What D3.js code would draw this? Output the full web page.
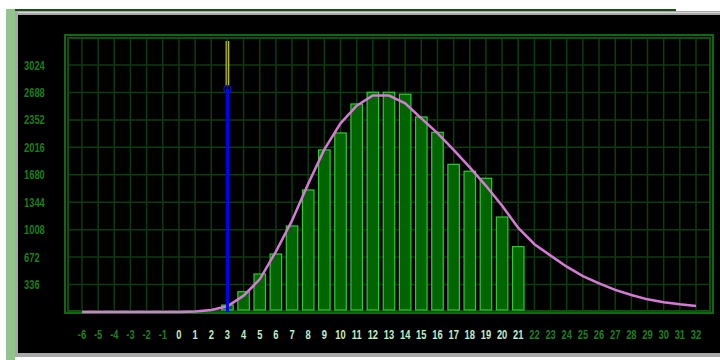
<!DOCTYPE html>
<html>
<head>
<meta charset="utf-8">
<script src="https://cdn.jsdelivr.net/npm/d3@7"></script>
<style>
  html, body { margin: 0; padding: 0; background: #ffffff; }
  svg { display: block; }
</style>
</head>
<body>
<div id="vis"></div>
<script>
// categorías del eje x
const xLabels = [-6, -5, -4, -3, -2, -1, 0, 1, 2, 3, 4, 5, 6, 7, 8, 9, 10, 11, 12, 13,
  14, 15, 16, 17, 18, 19, 20, 21, 22, 23, 24, 25, 26, 27, 28, 29, 30, 31, 32];
const yTicks = [336, 672, 1008, 1344, 1680, 2016, 2352, 2688, 3024];

// barras (frecuencias observadas)
const barCats = [3, 4, 5, 6, 7, 8, 9, 10, 11, 12, 13, 14, 15, 16, 17, 18, 19, 20, 21];
const barValues = [85, 248, 465, 710, 1053, 1494, 1984, 2192, 2547, 2690, 2690, 2666,
  2388, 2200, 1808, 1723, 1637, 1163, 800];

// curva teórica
const curveValues = [0, 0, 0, 0, 0, 0, 0, 5, 25, 70, 200, 400, 740, 1120, 1570, 1990,
  2310, 2525, 2650, 2650, 2555, 2370, 2190, 1985, 1770, 1545, 1300, 1030, 830, 690,
  555, 440, 350, 270, 208, 155, 120, 94, 73];

// marcador vertical
const markerCat = 3;
const markerValue = 2730;

const width = 720;
const height = 360;

const svg = d3.select("#vis")
  .append("svg")
  .attr("width", width)
  .attr("height", height);

// marco de la ventana
svg.append("rect").attr("x", 6).attr("y", 9).attr("width", 9).attr("height", 351).attr("fill", "#93c48e");
svg.append("rect").attr("x", 15).attr("y", 9).attr("width", 661).attr("height", 2).attr("fill", "#1c4d1c");
svg.append("rect").attr("x", 15).attr("y", 11).attr("width", 705).attr("height", 4).attr("fill", "#a8a8a8");
svg.append("rect").attr("x", 15).attr("y", 12).attr("width", 705).attr("height", 1).attr("fill", "#d8d8d8");
svg.append("rect").attr("x", 15).attr("y", 11).attr("width", 3).attr("height", 346).attr("fill", "#a8a8a8");
svg.append("rect").attr("x", 15).attr("y", 353).attr("width", 705).attr("height", 4).attr("fill", "#a8a8a8");
svg.append("rect").attr("x", 18).attr("y", 15).attr("width", 702).attr("height", 338).attr("fill", "#000000");

const x = d3.scaleLinear().domain([-6, 32]).range([82, 696]);
const y = d3.scaleLinear().domain([0, 3024]).range([312, 65]);

const plotLeft = 68, plotRight = 710, plotTop = 38, plotBottom = 311;

// rejilla
const grid = svg.append("g");
grid.selectAll("line.v")
  .data(xLabels)
  .enter()
  .append("line")
  .attr("x1", d => x(d)).attr("x2", d => x(d))
  .attr("y1", plotTop).attr("y2", plotBottom)
  .attr("stroke", "#0d3d0d")
  .attr("stroke-width", 1.5);
grid.selectAll("line.h")
  .data(yTicks)
  .enter()
  .append("line")
  .attr("x1", plotLeft).attr("x2", plotRight)
  .attr("y1", d => y(d)).attr("y2", d => y(d))
  .attr("stroke", "#0d3d0d")
  .attr("stroke-width", 1.5);

// marcos del área de trazado
svg.append("rect")
  .attr("x", 65).attr("y", 35).attr("width", 648).attr("height", 278)
  .attr("fill", "none").attr("stroke", "#0d6a0d").attr("stroke-width", 2);
svg.append("rect")
  .attr("x", plotLeft).attr("y", plotTop).attr("width", plotRight - plotLeft).attr("height", plotBottom - plotTop)
  .attr("fill", "none").attr("stroke", "#0a520a").attr("stroke-width", 2);

// barras
const barW = 11.5;
svg.append("g")
  .selectAll("rect")
  .data(barCats)
  .enter()
  .append("rect")
  .attr("x", d => x(d) - barW / 2)
  .attr("y", (d, i) => y(barValues[i]))
  .attr("width", barW)
  .attr("height", (d, i) => y(0) - y(barValues[i]) - 2)
  .attr("fill", "#006400")
  .attr("stroke", "#2ecc2e")
  .attr("stroke-width", 1.2);

// curva
const line = d3.line()
  .x((d, i) => x(xLabels[i]))
  .y(d => y(d));
svg.append("path")
  .datum(curveValues)
  .attr("d", line)
  .attr("fill", "none")
  .attr("stroke", "#d77ad7")
  .attr("stroke-width", 2.5);

// marcador
const mx = x(markerCat);
const my = y(markerValue);
svg.append("line")
  .attr("x1", mx - 1.3).attr("x2", mx - 1.3)
  .attr("y1", plotTop + 3).attr("y2", my - 3)
  .attr("stroke", "#f0f000").attr("stroke-width", 1);
svg.append("line")
  .attr("x1", mx + 1.3).attr("x2", mx + 1.3)
  .attr("y1", plotTop + 3).attr("y2", my - 3)
  .attr("stroke", "#f0f000").attr("stroke-width", 1);
svg.append("line")
  .attr("x1", mx).attr("x2", mx)
  .attr("y1", my).attr("y2", y(0))
  .attr("stroke", "#0000ff").attr("stroke-width", 3);
svg.append("circle")
  .attr("cx", mx).attr("cy", my).attr("r", 3.5)
  .attr("fill", "none").attr("stroke", "#1010d0").attr("stroke-width", 1.2);

// etiquetas (fuente estrecha simulada con escala horizontal)
const font = "'Liberation Sans', Arial, sans-serif";
svg.append("g")
  .selectAll("text")
  .data(yTicks)
  .enter()
  .append("text")
  .attr("transform", d => `translate(24,${y(d)}) scale(0.72,1)`)
  .attr("dy", "0.35em")
  .attr("font-family", font)
  .attr("font-size", 13)
  .attr("font-weight", "bold")
  .attr("fill", "#1a7f1a")
  .text(d => d);

svg.append("g")
  .selectAll("text")
  .data(xLabels)
  .enter()
  .append("text")
  .attr("transform", d => `translate(${x(d)},334) scale(0.72,1)`)
  .attr("dy", "0.35em")
  .attr("text-anchor", "middle")
  .attr("font-family", font)
  .attr("font-size", 13)
  .attr("font-weight", "bold")
  .attr("fill", d => (d >= 0 && d <= 21) ? "#c4eec4" : "#1f7f1f")
  .text(d => d);
</script>
</body>
</html>
